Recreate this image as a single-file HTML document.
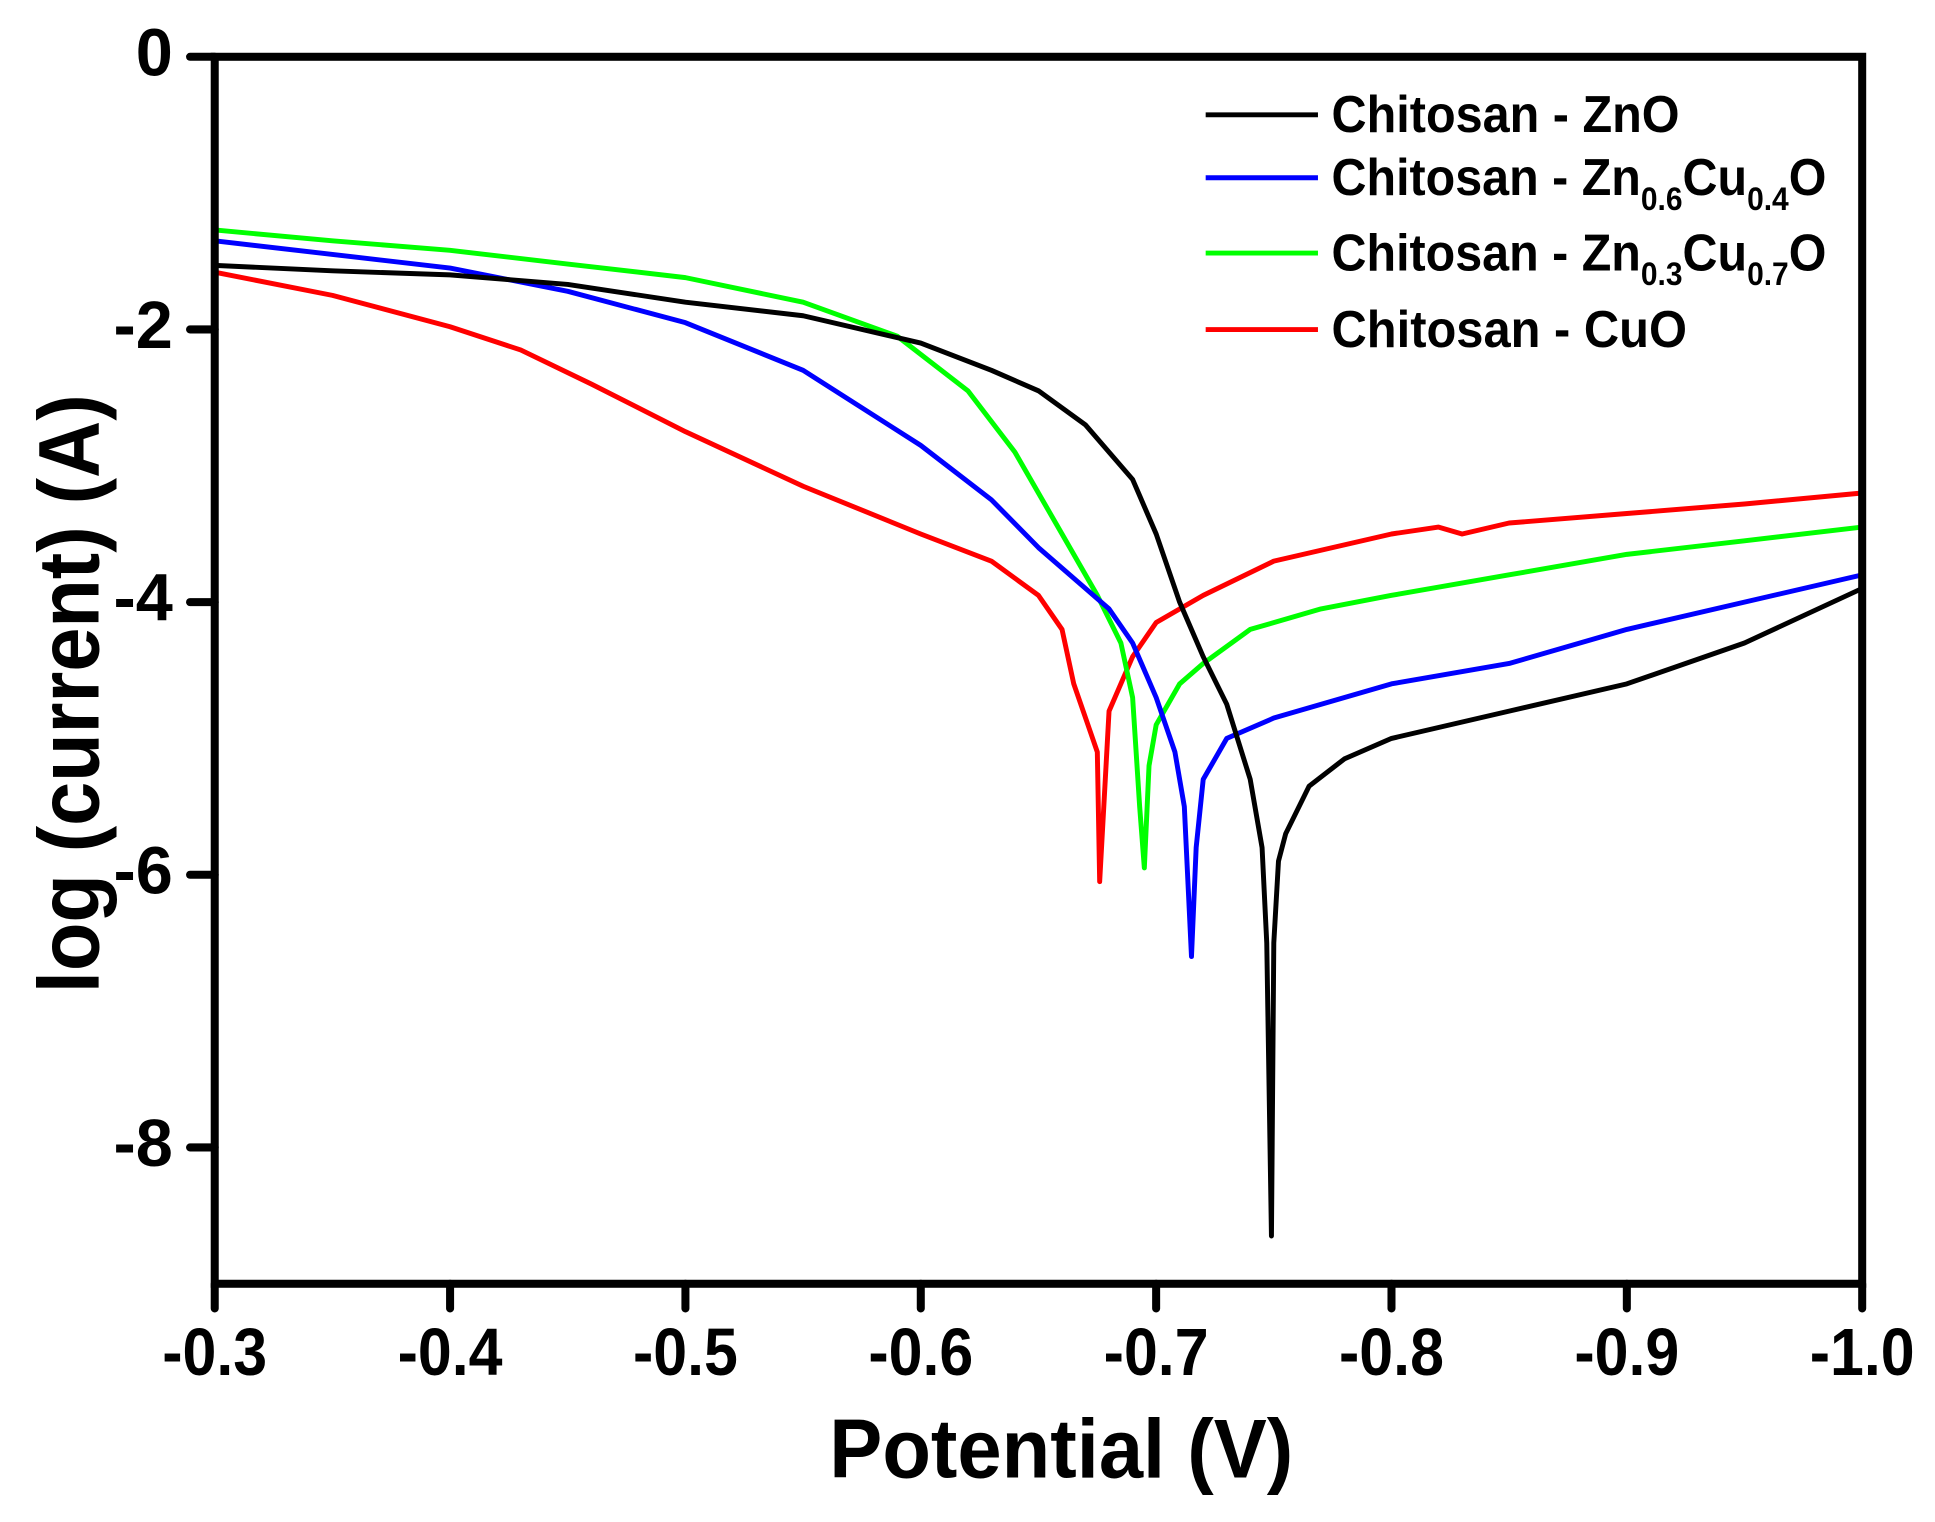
<!DOCTYPE html>
<html><head><meta charset="utf-8"><style>html,body{margin:0;padding:0;background:#fff}svg{display:block}text{font-family:"Liberation Sans",Arial,sans-serif;font-weight:bold}</style></head>
<body>
<svg id="chart" width="1935" height="1522" viewBox="0 0 1568 1233" preserveAspectRatio="none" xmlns="http://www.w3.org/2000/svg">
<g id="series"></g>
<rect x="174" y="46" width="1335" height="994" fill="none" stroke="#000" stroke-width="6.5"/>
<g id="ticks"></g>
<text x="860" y="1197" font-size="68" text-anchor="middle" textLength="376" lengthAdjust="spacingAndGlyphs">Potential (V)</text>
<text transform="translate(80,562) rotate(-90)" font-size="70" text-anchor="middle" textLength="485" lengthAdjust="spacingAndGlyphs">log (current) (A)</text>
<g font-size="42">
<line x1="977" y1="93" x2="1068" y2="93" stroke="#000" stroke-width="4"/>
<text x="1079" y="107" textLength="282" lengthAdjust="spacingAndGlyphs">Chitosan - ZnO</text>
<line x1="977" y1="144" x2="1068" y2="144" stroke="#0000ff" stroke-width="4"/>
<text x="1079" y="158" textLength="401" lengthAdjust="spacingAndGlyphs">Chitosan - Zn<tspan font-size="26" dy="12">0.6</tspan><tspan dy="-12">Cu</tspan><tspan font-size="26" dy="12">0.4</tspan><tspan dy="-12">O</tspan></text>
<line x1="977" y1="205" x2="1068" y2="205" stroke="#00ff00" stroke-width="4"/>
<text x="1079" y="219" textLength="401" lengthAdjust="spacingAndGlyphs">Chitosan - Zn<tspan font-size="26" dy="12">0.3</tspan><tspan dy="-12">Cu</tspan><tspan font-size="26" dy="12">0.7</tspan><tspan dy="-12">O</tspan></text>
<line x1="977" y1="267" x2="1068" y2="267" stroke="#ff0000" stroke-width="4"/>
<text x="1079" y="281" textLength="288" lengthAdjust="spacingAndGlyphs">Chitosan - CuO</text>
</g>
</svg>
<script>
const xTicks = [-0.3,-0.4,-0.5,-0.6,-0.7,-0.8,-0.9,-1.0];
const xTickLabels = ["-0.3","-0.4","-0.5","-0.6","-0.7","-0.8","-0.9","-1.0"];
const yTicks = [0,-2,-4,-6,-8];
const yTickLabels = ["0","-2","-4","-6","-8"];
const znoE = [-0.3,-0.35,-0.4,-0.45,-0.5,-0.55,-0.6,-0.63,-0.65,-0.67,-0.69,-0.70,-0.71,-0.72,-0.73,-0.74,-0.745,-0.747,-0.749,-0.750,-0.752,-0.755,-0.765,-0.78,-0.8,-0.85,-0.9,-0.95,-1.0];
const znoI = [-1.53,-1.57,-1.6,-1.67,-1.8,-1.9,-2.1,-2.3,-2.45,-2.7,-3.1,-3.5,-4.0,-4.4,-4.75,-5.3,-5.8,-6.5,-8.65,-6.5,-5.9,-5.7,-5.35,-5.15,-5.0,-4.8,-4.6,-4.3,-3.9];
const zc64E = [-0.3,-0.35,-0.4,-0.45,-0.5,-0.55,-0.6,-0.63,-0.65,-0.67,-0.68,-0.69,-0.70,-0.708,-0.712,-0.715,-0.717,-0.72,-0.73,-0.75,-0.8,-0.85,-0.9,-0.95,-1.0];
const zc64I = [-1.35,-1.45,-1.55,-1.72,-1.95,-2.3,-2.85,-3.25,-3.6,-3.9,-4.05,-4.3,-4.7,-5.1,-5.5,-6.6,-5.8,-5.3,-5.0,-4.85,-4.6,-4.45,-4.2,-4.0,-3.8];
const zc37E = [-0.3,-0.35,-0.4,-0.45,-0.5,-0.55,-0.59,-0.62,-0.64,-0.66,-0.675,-0.685,-0.69,-0.693,-0.695,-0.697,-0.70,-0.71,-0.72,-0.74,-0.77,-0.8,-0.85,-0.9,-0.95,-1.0];
const zc37I = [-1.27,-1.35,-1.42,-1.52,-1.62,-1.8,-2.05,-2.45,-2.9,-3.5,-3.95,-4.3,-4.7,-5.5,-5.95,-5.2,-4.9,-4.6,-4.45,-4.2,-4.05,-3.95,-3.8,-3.65,-3.55,-3.45];
const cuoE = [-0.3,-0.35,-0.4,-0.43,-0.46,-0.5,-0.55,-0.6,-0.63,-0.65,-0.66,-0.665,-0.672,-0.675,-0.676,-0.68,-0.69,-0.70,-0.72,-0.75,-0.8,-0.82,-0.83,-0.85,-0.9,-0.95,-1.0];
const cuoI = [-1.58,-1.75,-1.98,-2.15,-2.4,-2.75,-3.15,-3.5,-3.7,-3.95,-4.2,-4.6,-4.95,-5.1,-6.05,-4.8,-4.4,-4.15,-3.95,-3.7,-3.5,-3.45,-3.5,-3.42,-3.35,-3.28,-3.2];

const NS = "http://www.w3.org/2000/svg";
const X0=174, X1=1509, Y0=46, Y1=1040, EMIN=-0.3, EMAX=-1.0, IMAX=0, IMIN=-9;
function xs(v){return X0+(v-EMIN)/(EMAX-EMIN)*(X1-X0);}
function ys(v){return Y0+(IMAX-v)/(IMAX-IMIN)*(Y1-Y0);}
const sg=document.getElementById('series');
function draw(E,I,color,name){
  const p=document.createElementNS(NS,'polyline');
  p.setAttribute('points',E.map((e,i)=>xs(e).toFixed(1)+','+ys(I[i]).toFixed(1)).join(' '));
  p.setAttribute('fill','none');p.setAttribute('stroke',color);p.setAttribute('stroke-width','4');p.setAttribute('stroke-linejoin','round');
  
  
  sg.appendChild(p);
}
draw(cuoE,cuoI,'#ff0000','series-cuo');
draw(zc37E,zc37I,'#00ff00','series-zn03cu07o');
draw(zc64E,zc64I,'#0000ff','series-zn06cu04o');
draw(znoE,znoI,'#000000','series-zno');
const tg=document.getElementById('ticks');
xTicks.forEach((t,i)=>{
  const l=document.createElementNS(NS,'line');
  l.setAttribute('x1',xs(t));l.setAttribute('x2',xs(t));l.setAttribute('y1',Y1);l.setAttribute('y2',Y1+20);
  l.setAttribute('stroke','#000');l.setAttribute('stroke-width','6.5');l.setAttribute('stroke-linecap','round');
  
  
  tg.appendChild(l);
  const tx=document.createElementNS(NS,'text');
  tx.setAttribute('x',xs(t));tx.setAttribute('y',1114);tx.setAttribute('font-size','54');tx.setAttribute('text-anchor','middle');
  tx.setAttribute('textLength','85');tx.setAttribute('lengthAdjust','spacingAndGlyphs');
  tx.textContent=xTickLabels[i];
  
  
  tg.appendChild(tx);
});
yTicks.forEach((t,i)=>{
  const l=document.createElementNS(NS,'line');
  l.setAttribute('x1',X0-20);l.setAttribute('x2',X0);l.setAttribute('y1',ys(t));l.setAttribute('y2',ys(t));
  l.setAttribute('stroke','#000');l.setAttribute('stroke-width','6.5');l.setAttribute('stroke-linecap','round');
  
  
  tg.appendChild(l);
  const tx=document.createElementNS(NS,'text');
  tx.setAttribute('x',140);tx.setAttribute('y',ys(t)+15);tx.setAttribute('font-size','54');tx.setAttribute('text-anchor','end');
  tx.textContent=yTickLabels[i];
  
  
  tg.appendChild(tx);
});
</script>
</body></html>
